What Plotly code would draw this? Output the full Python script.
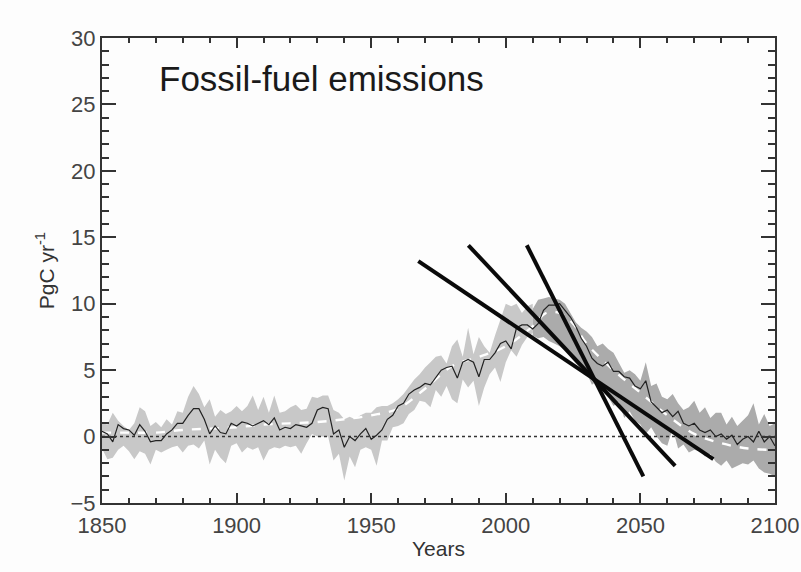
import plotly.graph_objects as go

# ---------------- data ----------------
years_all = list(range(1850, 2101, 2))
center = [0.4, 0.2, -0.4, 0.9, 0.6, 0.5, 0.1, 0.9, 0.4, -0.4,
          -0.3, -0.3, 0.2, 0.5, 1.0, 1.0, 1.6, 2.1, 2.1, 1.3,
          0.2, 0.8, 0.3, 0.2, 1.0, 0.8, 1.1, 1.0, 0.8, 1.0,
          1.2, 0.9, 1.4, 0.5, 0.7, 0.6, 0.9, 0.8, 0.7, 1.0,
          2.0, 2.2, 2.1, 0.2, 0.5, -0.8, 0.0, -0.3, 0.2, 0.6,
          -0.2, 0.1, 0.5, 1.3, 1.6, 2.3, 2.5, 3.2, 3.5, 3.7,
          4.0, 3.9, 4.5, 5.0, 5.2, 5.3, 4.4, 5.6, 5.8, 5.6,
          4.5, 5.8, 5.8, 6.3, 7.0, 7.2, 6.6, 8.2, 8.4, 8.4,
          8.1, 8.5, 9.5, 9.9, 9.9, 10.0, 9.5, 9.0, 8.3, 7.4,
          6.8, 5.9, 5.5, 5.3, 5.6, 4.9, 4.9, 4.5, 4.4, 3.8,
          3.6, 4.2, 2.6, 2.2, 1.8, 2.0, 1.5, 1.9, 1.0, 0.8,
          1.0, 0.5, 0.3, 0.5, 0.0, 0.2, -0.2, 0.1, -0.6, -0.2,
          0.0, -0.4, 0.4, -0.4, 0.0, -0.7]

hist_years = list(range(1850, 2011, 2))
hist_upper = [1.0, 0.9, 1.8, 1.2, 0.8, 0.5, 1.0, 2.2, 1.9, 0.8,
              1.1, 0.7, 1.3, 0.9, 1.9, 1.8, 3.0, 3.8, 3.2, 2.2,
              2.8, 1.5, 2.0, 1.7, 1.9, 2.3, 1.9, 2.3, 3.1, 2.0,
              3.0, 1.8, 3.1, 1.8, 1.9, 2.2, 2.4, 2.0, 2.1, 3.0,
              2.9, 3.1, 3.1, 2.0, 1.8, 1.3, 1.5, 1.3, 1.6, 1.8,
              1.8, 2.2, 2.3, 2.3, 2.5, 2.8, 3.2, 3.8, 4.3, 4.7,
              5.2, 5.6, 6.0, 6.1, 5.5, 6.8, 7.3, 6.0, 8.2, 6.2,
              7.5, 6.8, 6.3, 7.6, 8.8, 10.0, 9.8, 10.0, 9.3, 9.8,
              10.0]
hist_lower = [-0.9, -1.7, -1.6, -1.0, -0.7, -1.1, -1.7, -1.1, -1.3, -2.1,
              -1.0, -1.2, -1.0, -0.8, -0.7, -1.2, -0.7, -0.6, -0.9, -0.3,
              -2.1, -1.0, -1.6, -2.0, -0.7, -0.5, -1.2, -0.8, -1.0, -0.8,
              -1.8, -1.0, -0.8, -0.9, -0.7, -0.8, -0.7, -1.3, -0.5, 0.2,
              0.0, 0.0, 0.0, -1.8, -1.3, -3.3, -1.5, -2.3, -1.0, -0.8,
              -1.0, -2.2, -0.3, -0.3, 0.7, 0.8, 1.0, 1.7, 2.0, 2.7,
              2.6, 2.2, 3.5, 3.0, 3.8, 2.8, 2.5, 4.3, 3.7, 4.2,
              2.3, 3.7, 4.7, 5.2, 4.1, 5.6, 6.5, 6.0, 6.9, 7.5,
              7.8]

fut_years = list(range(2010, 2101, 2))
fut_upper = [9.6, 10.3, 10.4, 10.5, 10.4, 10.3, 10.0, 9.3, 8.6, 8.2,
             7.9, 7.5, 6.8, 7.0, 6.6, 6.3, 5.5, 4.8, 5.0, 4.7,
             4.2, 5.6, 3.8, 4.0, 3.0, 2.8, 3.2, 2.5, 2.0, 2.2,
             2.7, 1.8, 2.2, 1.4, 1.8, 1.8, 0.9, 1.5, 0.8, 1.2,
             1.6, 2.5, 0.9, 1.7, 0.8, 1.0]
fut_lower = [7.6, 7.4, 7.5, 7.2, 7.0, 6.8, 6.5, 6.0, 5.5, 5.2,
             4.8, 3.9, 4.2, 3.5, 3.0, 2.3, 2.6, 1.4, 1.9, 1.2,
             0.9, 0.2, 0.7, 0.0, -0.5, -0.7, 0.6, -0.9, -0.6, -1.2,
             -1.0, -1.1, -1.5, -1.3, -1.9, -2.2, -1.8, -2.4, -2.2, -2.0,
             -2.1, -1.8, -2.4, -2.7, -2.8, -3.0]

smooth_years = [1850, 1860, 1870, 1880, 1890, 1900, 1910, 1920, 1930, 1940,
                1950, 1960, 1970, 1980, 1990, 2000, 2010, 2015, 2020, 2025,
                2030, 2040, 2050, 2060, 2070, 2080, 2090, 2100]
smooth_vals = [0.3, 0.3, 0.3, 0.5, 0.6, 0.7, 0.9, 1.0, 1.1, 1.3,
               1.6, 2.1, 3.6, 5.3, 6.0, 6.8, 8.3, 9.3, 9.3, 8.5,
               7.0, 5.0, 3.3, 1.6, 0.2, -0.5, -0.9, -1.0]

# thick straight lines: start/end years and values
trend_x = [[1967.5, 2077.1], [1986.1, 2062.9], [2007.8, 2051.1]]
trend_y = [[13.2, -1.7], [14.4, -2.2], [14.4, -3.0]]

x_ticks = [1850, 1900, 1950, 2000, 2050, 2100]
y_ticks = [-5, 0, 5, 10, 15, 20, 25, 30]

assert len(center) == len(years_all)
assert len(hist_upper) == len(hist_years) == len(hist_lower)
assert len(fut_upper) == len(fut_years) == len(fut_lower)

# ---------------- figure ----------------
fig = go.Figure()

fig.add_trace(go.Scatter(x=hist_years, y=hist_lower, mode="lines",
                         line=dict(width=0, color="#c8c8c8"), showlegend=False, hoverinfo="skip"))
fig.add_trace(go.Scatter(x=hist_years, y=hist_upper, mode="lines", fill="tonexty",
                         fillcolor="#c8c8c8", line=dict(width=0, color="#c8c8c8"),
                         showlegend=False, hoverinfo="skip"))
fig.add_trace(go.Scatter(x=fut_years, y=fut_lower, mode="lines",
                         line=dict(width=0, color="#ababab"), showlegend=False, hoverinfo="skip"))
fig.add_trace(go.Scatter(x=fut_years, y=fut_upper, mode="lines", fill="tonexty",
                         fillcolor="#ababab", line=dict(width=0, color="#ababab"),
                         showlegend=False, hoverinfo="skip"))

fig.add_trace(go.Scatter(x=[x_ticks[0], x_ticks[-1]], y=[0, 0], mode="lines",
                         line=dict(color="#333333", width=1.5, dash="dot"), showlegend=False))

fig.add_trace(go.Scatter(x=smooth_years, y=smooth_vals, mode="lines",
                         line=dict(color="#ffffff", width=2.4, dash="dash", shape="spline"),
                         showlegend=False))

fig.add_trace(go.Scatter(x=years_all, y=center, mode="lines",
                         line=dict(color="#222222", width=1.2), showlegend=False))

for tx, ty in zip(trend_x, trend_y):
    fig.add_trace(go.Scatter(x=tx, y=ty, mode="lines",
                             line=dict(color="#0a0a0a", width=4), showlegend=False))

axis_common = dict(showline=True, linecolor="#333333", linewidth=2, mirror="allticks",
                   ticks="inside", tickcolor="#333333", tickwidth=1.5, showgrid=False,
                   zeroline=False, automargin=False,
                   tickfont=dict(family="Liberation Sans, Arial", size=22, color="#444444"))

fig.update_xaxes(range=[1850, 2100], tickvals=x_ticks, ticklen=10,
                 minor=dict(dtick=10, ticklen=5, ticks="inside", tickcolor="#333333", tickwidth=1.5, showgrid=False),
                 ticklabelstandoff=2, **axis_common)
fig.update_yaxes(range=[-5, 30], tickvals=y_ticks, ticklen=14,
                 minor=dict(dtick=1, ticklen=7, ticks="inside", tickcolor="#333333", tickwidth=1.5, showgrid=False),
                 ticklabelstandoff=0, **axis_common)

fig.update_layout(
    width=801, height=572,
    margin=dict(l=102, r=26, t=38, b=69, autoexpand=False),
    paper_bgcolor="#fdfdfd", plot_bgcolor="#fdfdfd",
    showlegend=False,
    annotations=[
        dict(text="Fossil-fuel emissions", x=0.082, y=0.912, xref="paper", yref="paper",
             xanchor="left", yanchor="middle", showarrow=False,
             font=dict(family="Liberation Sans, Arial", size=35, color="#1a1a1a")),
        dict(text="PgC yr<sup>-1</sup>", x=-0.085, y=0.5, xref="paper", yref="paper",
             xanchor="center", yanchor="middle", textangle=-90, showarrow=False,
             font=dict(family="Liberation Sans, Arial", size=21, color="#333333")),
        dict(text="Years", x=0.5, y=-0.097, xref="paper", yref="paper",
             xanchor="center", yanchor="middle", showarrow=False,
             font=dict(family="Liberation Sans, Arial", size=21, color="#333333")),
    ],
)

fig.write_html("out.html", config={"displayModeBar": False})

# remove default page margin so the figure sits at the window origin
with open("out.html", "r", encoding="utf-8") as f:
    html = f.read()
html = html.replace("<head>", "<head><style>html,body{margin:0;padding:0;overflow:hidden;background:#fdfdfd}</style>", 1)
with open("out.html", "w", encoding="utf-8") as f:
    f.write(html)
